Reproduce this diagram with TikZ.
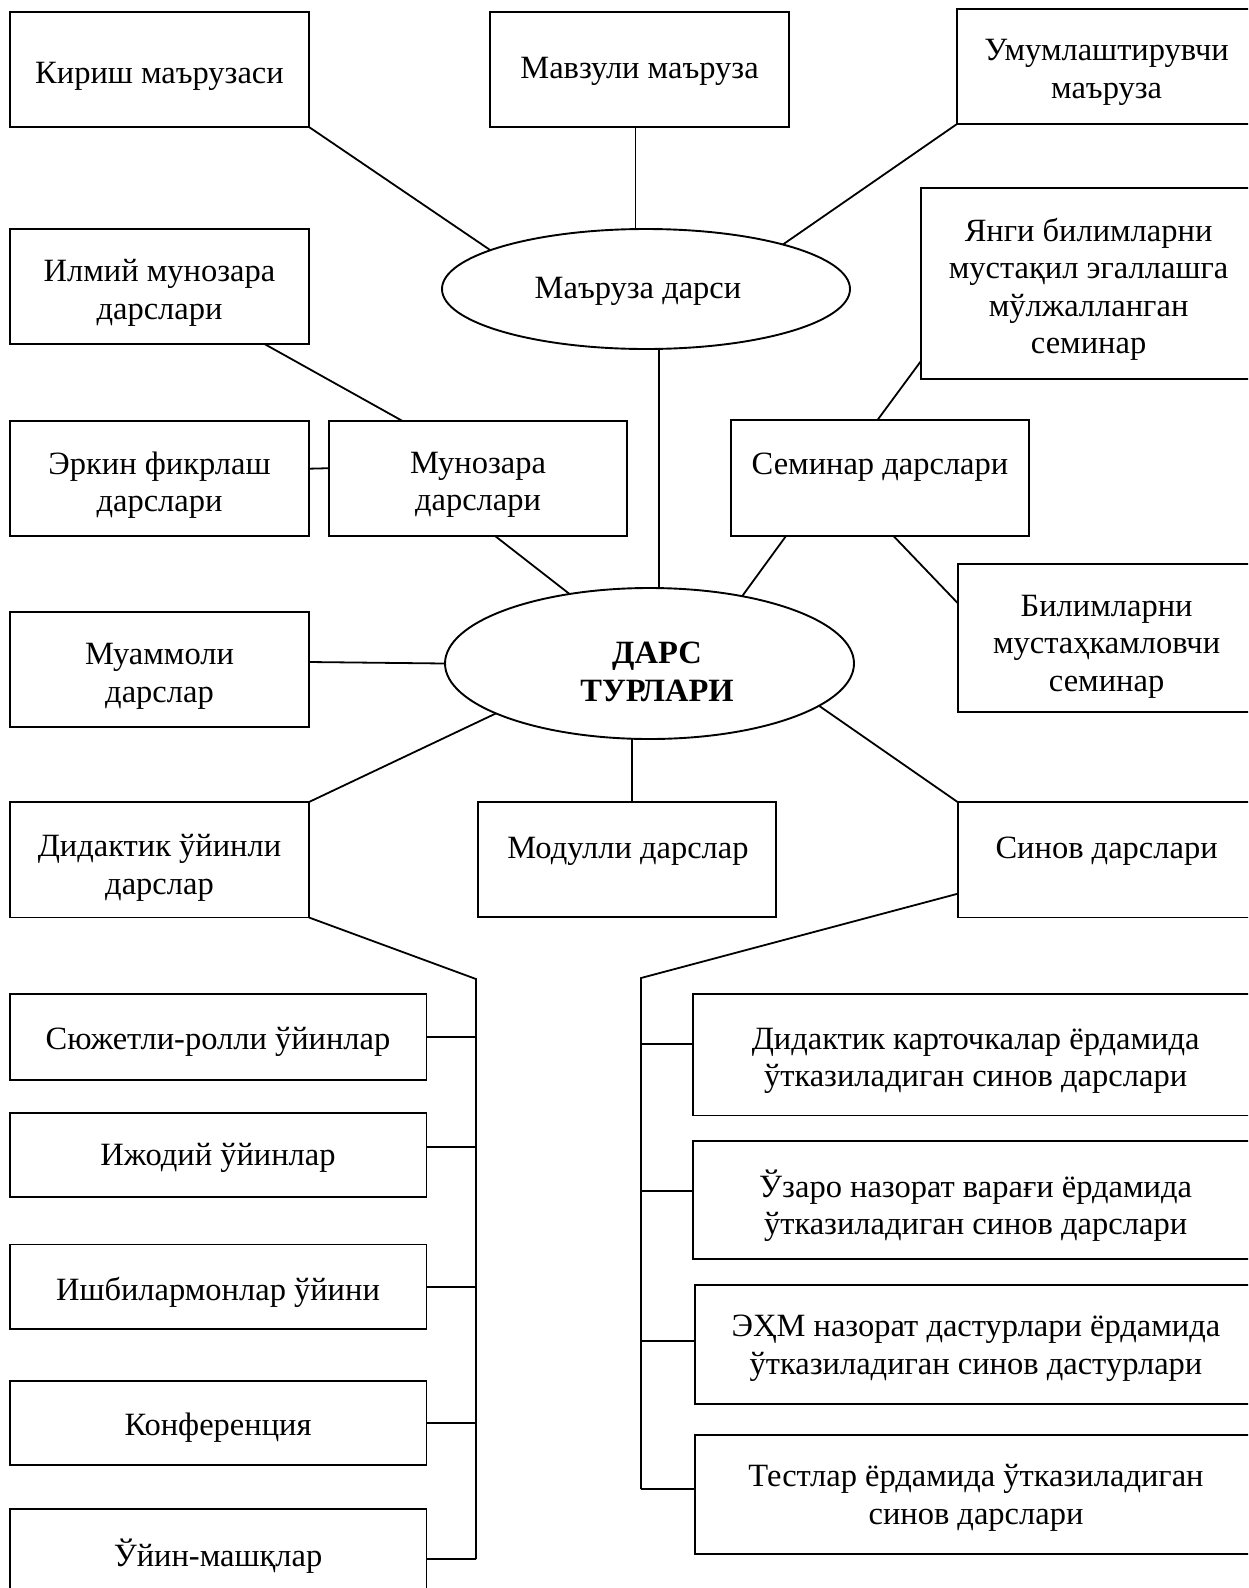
\documentclass[tikz,border=0pt]{standalone}
\usepackage{fontspec}
\setmainfont{Liberation Serif}
\usetikzlibrary{shapes.geometric,fit}
\tikzset{
  boxst/.style={draw=black, line width=1.9pt, inner sep=0pt, outer sep=0pt, rectangle},
  ell/.style={draw=black, line width=1.9pt, ellipse, inner sep=0pt, outer sep=0pt},
  txt/.style={align=center, inner sep=0pt, font=\fontsize{32.5}{37.5}\selectfont},
  conn/.style={draw=black, line width=1.8pt}
}
\newcommand\bx[8]{%
  \node[boxst, fit={(#2,#3) (#4,#5)}] (#1) {};
  \node[txt] (#1-t) at (#6,{#7+3}) {#8};
}
\begin{document}
\begin{tikzpicture}[x=1pt,y=-1pt]
\useasboundingbox (0,0) rectangle (1248,1588);
\fill[white] (0,0) rectangle (1248,1588);
\clip (0,0) rectangle (1248,1588);

% boxes
\bx{kirish}{10}{12}{309}{127}{159.5}{73}{Кириш маърузаси}
\bx{mavzuli}{490}{12}{789}{127}{639.5}{68}{Мавзули маъруза}
\bx{umum}{957}{9}{1257}{124}{1106.6}{69.5}{Умумлаштирувчи\\маъруза}
\bx{ilmiy}{10}{228.6}{309}{344}{159.5}{290}{Илмий мунозара\\дарслари}
\bx{erkin}{10}{420.7}{309}{535.7}{159.5}{482}{Эркин фикрлаш\\дарслари}
\bx{munozara}{329}{420.7}{627}{535.7}{478}{482}{Мунозара\\дарслари}
\bx{seminar}{731}{420}{1029}{536}{880}{464}{Семинар дарслари}
\bx{yangi}{921}{188}{1257}{379}{1088.6}{286.5}{Янги билимларни\\мустақил эгаллашга\\мўлжалланган\\семинар}
\bx{bilim}{957.6}{564}{1257}{712}{1106.6}{643.5}{Билимларни\\мустаҳкамловчи\\семинар}
\bx{muammoli}{10}{612}{309}{727}{159.5}{673.5}{Муаммоли\\дарслар}
\bx{didaktik}{10}{802}{309}{917.5}{159.5}{865}{Дидактик ўйинли\\дарслар}
\bx{modulli}{477.6}{802}{776}{917}{628}{848}{Модулли дарслар}
\bx{sinov}{957.6}{802}{1257}{917.5}{1106.6}{848}{Синов дарслари}
\bx{syujet}{10}{994}{426.5}{1080}{218}{1039}{Сюжетли-ролли ўйинлар}
\bx{ijodiy}{10}{1113}{426.5}{1197}{218}{1155}{Ижодий ўйинлар}
\bx{ishbil}{10}{1244.5}{426.5}{1329}{218}{1289}{Ишбилармонлар ўйини}
\bx{konf}{10}{1380.6}{426.5}{1465}{218}{1425}{Конференция}
\bx{uyin}{10}{1509}{426.5}{1597}{218}{1553}{Ўйин-машқлар}
\bx{kart}{693}{994}{1257}{1115.5}{975.6}{1058}{Дидактик карточкалар ёрдамида\\ўтказиладиган синов дарслари}
\bx{uzaro}{693}{1140.6}{1257}{1258.7}{975.6}{1202.5}{Ўзаро назорат варағи ёрдамида\\ўтказиладиган синов дарслари}
\bx{ehm}{695}{1285}{1257}{1404}{976}{1345}{ЭҲМ назорат дастурлари ёрдамида\\ўтказиладиган синов дастурлари}
\bx{test}{695}{1435}{1257}{1554}{976}{1495}{Тестлар ёрдамида ўтказиладиган\\синов дарслари}

% ellipses
\node[ell, minimum width=408pt, minimum height=120pt] (maruza) at (646,289) {};
\node[txt] (maruza-t) at (638,291) {Маъруза дарси};
\node[ell, minimum width=409pt, minimum height=151pt] (dars) at (649.5,663.5) {};
\node[txt, font=\fontsize{32.5}{37.5}\selectfont\bfseries] (dars-t) at (657,672) {ДАРС\\ТУРЛАРИ};

% connectors around lecture ellipse
\draw[conn] (kirish.south east) -- (maruza.166);
\draw[conn] (maruza.100) -- (maruza.100 |- mavzuli.south);
\draw[conn] (umum.south west) -- (maruza.18.6);
\draw[conn] (maruza.282) -- (maruza.282 |- dars.north);

% debate
\draw[conn] ([xshift=-44.5pt]ilmiy.south east) -- ([xshift=-76pt]munozara.north);
\draw[conn] ([yshift=9.5pt]erkin.east) -- ([yshift=10pt]munozara.west);
\draw[conn] ([xshift=16.7pt]munozara.south) -- (dars.139.5);

% seminar
\draw[conn] ([xshift=-94pt]seminar.south) -- (dars.36.4);
\draw[conn] ([xshift=13.5pt]seminar.south) -- ([yshift=-39pt]bilim.north west);
\draw[conn] ([xshift=-2.5pt]seminar.north) -- ([yshift=18pt]yangi.south west);

% others around centre
\draw[conn] ([yshift=7.5pt]muammoli.east) -- (dars.west);
\draw[conn] (dars.198.5) -- (didaktik.north east);
\draw[conn] (dars.257.3) -- (dars.257.3 |- modulli.north);
\draw[conn] (dars.346.3) -- (sinov.north west);

% left trunk (games)
\coordinate (ltop) at (476,979);
\coordinate (lbot) at (476,1559);
\draw[conn] (didaktik.south east) -- (ltop) -- (lbot);
\draw[conn] (syujet.east) -- (syujet.east -| ltop);
\draw[conn] ([yshift=8pt]ijodiy.east) coordinate (ijb) -- (ijb -| ltop);
\draw[conn] (ishbil.east) -- (ishbil.east -| ltop);
\draw[conn] (konf.east) -- (konf.east -| ltop);
\draw[conn] (lbot) -- (lbot -| uyin.east);

% right trunk (tests)
\coordinate (rtop) at (641,978);
\coordinate (rbot) at (641,1489);
\draw[conn] ([yshift=-34pt]sinov.west) -- (rtop) -- (rbot);
\draw[conn] ([yshift=10.7pt]kart.west) coordinate (kb) -- (kb -| rtop);
\draw[conn] ([yshift=8.6pt]uzaro.west) coordinate (ub) -- (ub -| rtop);
\draw[conn] ([yshift=3.5pt]ehm.west) coordinate (eb) -- (eb -| rtop);
\draw[conn] (rbot) -- (rbot -| test.west);
\end{tikzpicture}
\end{document}
